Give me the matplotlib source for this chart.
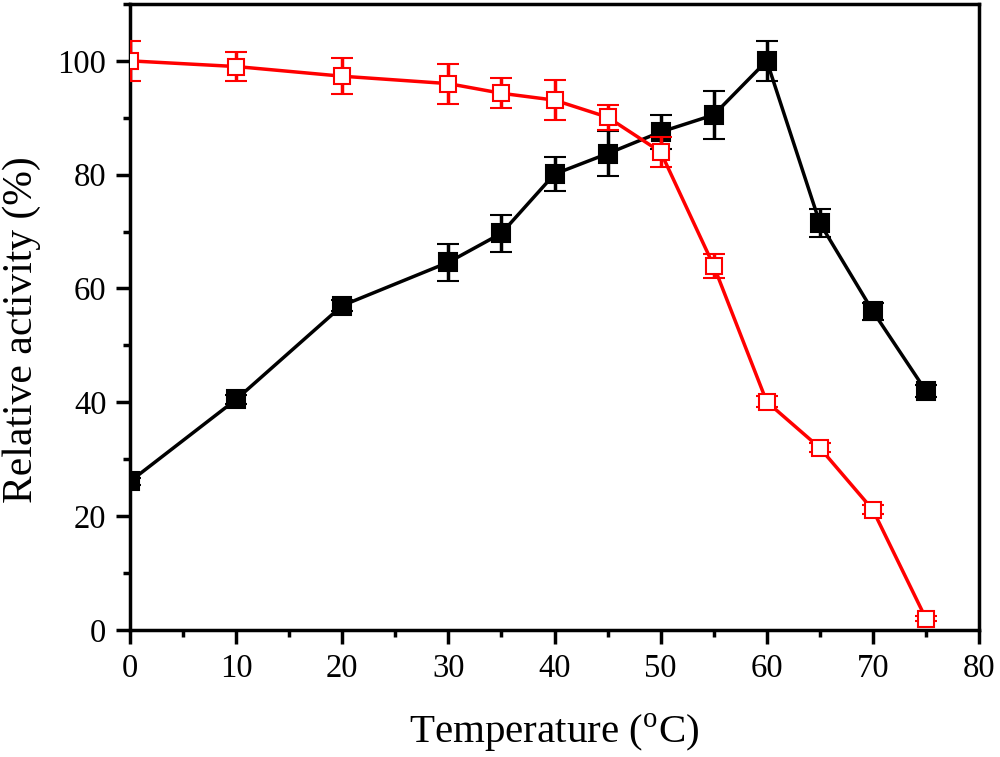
import matplotlib
matplotlib.use("Agg")
import matplotlib.pyplot as plt
from matplotlib.ticker import MultipleLocator

plt.rcParams['font.family'] = ['Liberation Serif', 'DejaVu Serif']
plt.rcParams['mathtext.fontset'] = 'custom'
plt.rcParams['mathtext.rm'] = 'Liberation Serif'

temps = [0, 10, 20, 30, 35, 40, 45, 50, 55, 60, 65, 70, 75]
activity = [26.1, 40.5, 57.0, 64.6, 69.7, 80.1, 83.7, 87.5, 90.5, 100.0, 71.5, 56.0, 42.0]
activity_err = [0.6, 0.8, 1.0, 3.2, 3.2, 3.0, 4.0, 3.0, 4.2, 3.5, 2.5, 1.5, 1.0]
stability = [100.0, 99.0, 97.3, 96.0, 94.3, 93.1, 90.1, 84.0, 64.0, 40.1, 32.0, 21.1, 2.0]
stability_err = [3.5, 2.5, 3.2, 3.5, 2.6, 3.5, 2.2, 2.7, 2.1, 1.0, 0.8, 0.8, 0.5]

fig = plt.figure(figsize=(10, 7.57), dpi=100)
ax = fig.add_axes([0.13, 0.1678, 0.849, 0.827])

ax.errorbar(temps, activity, yerr=activity_err, color='black', lw=2.5,
            marker='s', ms=13, mfc='black', mec='black', mew=1.5,
            elinewidth=2.5, capsize=8, capthick=2.5, zorder=2)
ax.errorbar(temps, stability, yerr=stability_err, color='#ff0000', lw=2.5,
            marker='s', ms=12, mfc='white', mec='#ff0000', mew=1.5,
            elinewidth=2.5, capsize=8, capthick=2.5, zorder=3)

ax.set_xlim(0, 80)
ax.set_ylim(0, 110)
ax.xaxis.set_major_locator(MultipleLocator(10))
ax.xaxis.set_minor_locator(MultipleLocator(5))
ax.yaxis.set_major_locator(MultipleLocator(20))
ax.yaxis.set_minor_locator(MultipleLocator(10))
ax.tick_params(which='both', direction='out', top=False, right=False, width=2.5)
ax.tick_params(which='major', length=10, labelsize=23.5, pad=7)
ax.tick_params(which='minor', length=5)
for s in ax.spines.values():
    s.set_linewidth(2.5)

ax.set_xlabel(r'Temperature ($^{\rm o}$C)', fontsize=29.5, labelpad=20)
ax.set_ylabel('Relative activity (%)', fontsize=30)
ax.yaxis.set_label_coords(-0.105, 0.479)

fig.savefig('out.png', dpi=100)
